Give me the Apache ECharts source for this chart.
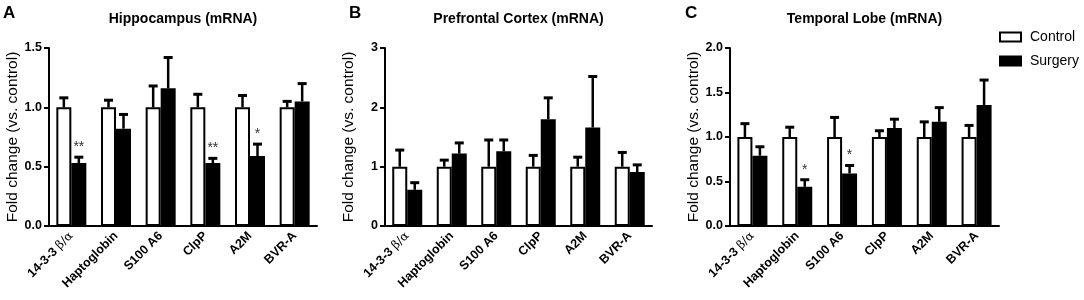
<!DOCTYPE html>
<html>
<head>
<meta charset="utf-8">
<script src="https://cdn.jsdelivr.net/npm/echarts@6/dist/echarts.min.js"></script>
<style>
  html, body { margin: 0; padding: 0; background: #fff; }
  #chart { width: 1084px; height: 300px; }
</style>
</head>
<body>
<div id="chart"></div>
<script>
// genes on the x axis
var genes = ['14-3-3 β/α', 'Haptoglobin', 'S100 A6', 'ClpP', 'A2M', 'BVR-A'];

// Hippocampus
var hipCtrl = [1, 1, 1, 1, 1, 1];
var hipCtrlSem = [0.08, 0.06, 0.18, 0.11, 0.10, 0.05];
var hipSurg = [0.53, 0.82, 1.16, 0.53, 0.59, 1.05];
var hipSurgSem = [0.05, 0.12, 0.26, 0.04, 0.10, 0.15];
var hipStars = ['**', '', '', '**', '*', ''];

// Prefrontal cortex
var pfcCtrl = [1, 1, 1, 1, 1, 1];
var pfcCtrlSem = [0.28, 0.11, 0.45, 0.19, 0.16, 0.24];
var pfcSurg = [0.61, 1.22, 1.26, 1.80, 1.66, 0.91];
var pfcSurgSem = [0.12, 0.18, 0.19, 0.36, 0.86, 0.12];
var pfcStars = ['', '', '', '', '', ''];

// Temporal lobe
var tlCtrl = [1, 1, 1, 1, 1, 1];
var tlCtrlSem = [0.15, 0.11, 0.22, 0.07, 0.17, 0.13];
var tlSurg = [0.79, 0.44, 0.59, 1.10, 1.17, 1.36];
var tlSurgSem = [0.10, 0.08, 0.09, 0.10, 0.16, 0.28];
var tlStars = ['', '*', '*', '', '', ''];

var yTicksA = [0, 1.5, 0.5];
var yTicksB = [0, 3, 1];
var yTicksC = [0, 2, 0.5];

var FONT = 'Arial, "Liberation Sans", sans-serif';
var BAR_W = 15;

var panels = [
  { letter: 'A', title: 'Hippocampus (mRNA)', ctrl: hipCtrl, ctrlSem: hipCtrlSem, surg: hipSurg, surgSem: hipSurgSem, stars: hipStars, ticks: yTicksA, dec: 1, left: 49, width: 268, letterX: 3 },
  { letter: 'B', title: 'Prefrontal Cortex (mRNA)', ctrl: pfcCtrl, ctrlSem: pfcCtrlSem, surg: pfcSurg, surgSem: pfcSurgSem, stars: pfcStars, ticks: yTicksB, dec: 0, left: 385, width: 267, letterX: 349 },
  { letter: 'C', title: 'Temporal Lobe (mRNA)', ctrl: tlCtrl, ctrlSem: tlCtrlSem, surg: tlSurg, surgSem: tlSurgSem, stars: tlStars, ticks: yTicksC, dec: 1, left: 730, width: 269, letterX: 685 }
];

function errorBars(offset, stars) {
  return function (params, api) {
    var i = api.value(0), m = api.value(1), s = api.value(2);
    var base = api.coord([i, m]);
    var top = api.coord([i, m + s]);
    var x = base[0] + offset;
    var kids = [
      { type: 'line', shape: { x1: x, y1: base[1], x2: x, y2: top[1] }, style: { stroke: '#000', lineWidth: 2.5 } },
      { type: 'line', shape: { x1: x - 4.5, y1: top[1], x2: x + 4.5, y2: top[1] }, style: { stroke: '#000', lineWidth: 3 } }
    ];
    var st = stars && stars[params.dataIndex];
    if (st) {
      kids.push({ type: 'text', x: x, y: top[1] - 3, style: { text: st, fill: '#333', font: '14px ' + FONT, align: 'center', verticalAlign: 'bottom' } });
    }
    return { type: 'group', children: kids };
  };
}

var titles = [], grids = [], xAxes = [], yAxes = [], series = [];

panels.forEach(function (p, k) {
  titles.push({ text: p.letter, left: p.letterX, top: 5, padding: 0, textStyle: { fontFamily: FONT, fontSize: 17, fontWeight: 'bold', color: '#000' } });
  titles.push({ text: p.title, left: p.left + p.width / 2, top: 12, padding: 0, textAlign: 'center', textStyle: { fontFamily: FONT, fontSize: 14, fontWeight: 'bold', color: '#000' } });
  grids.push({ left: p.left, width: p.width, top: 48, bottom: 74 });
  xAxes.push({
    type: 'category', gridIndex: k, data: genes,
    axisLine: { lineStyle: { color: '#000', width: 2 } },
    axisTick: { alignWithLabel: true, length: 5, lineStyle: { color: '#000', width: 2 } },
    axisLabel: {
      rotate: 45, margin: 8, color: '#000', fontFamily: FONT, fontWeight: 'bold', fontSize: 12.5, interval: 0,
      formatter: function (v) { return v.replace('β/α', '{g|β/α}'); },
      rich: { g: { fontFamily: '"DejaVu Serif", serif', fontWeight: 'normal', fontSize: 12, color: '#000' } }
    }
  });
  yAxes.push({
    type: 'value', gridIndex: k, min: p.ticks[0], max: p.ticks[1], interval: p.ticks[2],
    name: 'Fold change (vs. control)', nameLocation: 'middle', nameGap: 28,
    nameTextStyle: { fontFamily: FONT, fontSize: 15.5, color: '#000' },
    splitLine: { show: false },
    axisLine: { show: true, lineStyle: { color: '#000', width: 2 } },
    axisTick: { show: true, length: 5, lineStyle: { color: '#000', width: 2 } },
    axisLabel: { margin: 7, color: '#000', fontFamily: FONT, fontWeight: 'bold', fontSize: 12.5,
      formatter: (function (d) { return function (v) { return v.toFixed(d); }; })(p.dec) }
  });
  series.push({
    name: 'Control', type: 'bar', xAxisIndex: k, yAxisIndex: k, data: p.ctrl,
    barWidth: BAR_W, barGap: '0%',
    itemStyle: { color: '#fff', borderColor: '#000', borderWidth: 2 }
  });
  series.push({
    name: 'Surgery', type: 'bar', xAxisIndex: k, yAxisIndex: k, data: p.surg,
    barWidth: BAR_W, barGap: '0%',
    itemStyle: { color: '#000', borderColor: '#000', borderWidth: 2 }
  });
  series.push({
    type: 'custom', xAxisIndex: k, yAxisIndex: k, z: 5,
    renderItem: errorBars(-BAR_W / 2, null),
    data: p.ctrl.map(function (v, i) { return [i, v, p.ctrlSem[i]]; })
  });
  series.push({
    type: 'custom', xAxisIndex: k, yAxisIndex: k, z: 5,
    renderItem: errorBars(BAR_W / 2, p.stars),
    data: p.surg.map(function (v, i) { return [i, v, p.surgSem[i]]; })
  });
});

var chart = echarts.init(document.getElementById('chart'));
chart.setOption({
  animation: false,
  backgroundColor: '#fff',
  title: titles,
  legend: {
    orient: 'vertical', left: 999, top: 30, padding: 0, itemWidth: 21, itemHeight: 9, itemGap: 10,
    icon: 'rect',
    textStyle: { fontFamily: FONT, fontSize: 14, color: '#000', padding: [0, 0, 0, 4] },
    data: [
      { name: 'Control', itemStyle: { color: '#fff', borderColor: '#000', borderWidth: 2 } },
      { name: 'Surgery', itemStyle: { color: '#000', borderColor: '#000', borderWidth: 2 } }
    ]
  },
  grid: grids,
  xAxis: xAxes,
  yAxis: yAxes,
  series: series
});
</script>
</body>
</html>
